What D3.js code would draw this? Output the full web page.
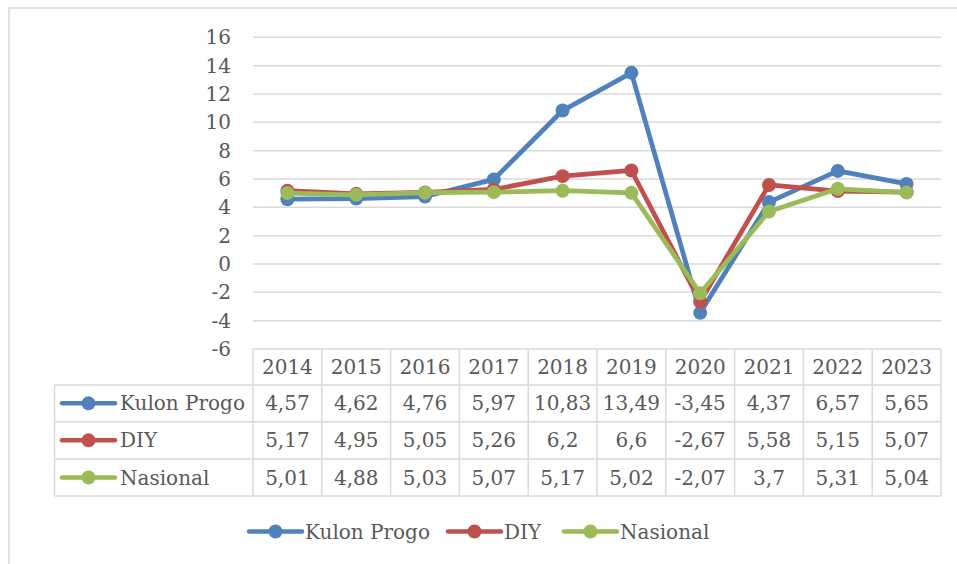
<!DOCTYPE html>
<html>
<head>
<meta charset="utf-8">
<script src="https://cdn.jsdelivr.net/npm/d3@7"></script>
<style>
  body { margin: 0; background: #fff; }
  text { font-family: "DejaVu Serif", serif; fill: #595959; }
</style>
</head>
<body>
<div id="chart"></div>
<script>
const years = [2014, 2015, 2016, 2017, 2018, 2019, 2020, 2021, 2022, 2023];
const kulonProgo = [4.57, 4.62, 4.76, 5.97, 10.83, 13.49, -3.45, 4.37, 6.57, 5.65];
const diy = [5.17, 4.95, 5.05, 5.26, 6.2, 6.6, -2.67, 5.58, 5.15, 5.07];
const nasional = [5.01, 4.88, 5.03, 5.07, 5.17, 5.02, -2.07, 3.7, 5.31, 5.04];
const seriesNames = ["Kulon Progo", "DIY", "Nasional"];
const seriesColors = ["#4f81bd", "#c0504d", "#9bbb59"];
const yTicks = [-6, -4, -2, 0, 2, 4, 6, 8, 10, 12, 14, 16];

const series = [kulonProgo, diy, nasional].map((vals, i) => ({
    name: seriesNames[i], color: seriesColors[i], values: vals
}));

const W = 957, H = 564;
const fontSize = 20;
const plotLeft = 253, plotRight = 941, plotTop = 37.3, plotBottom = 349;
const tableLeft = 54.5;
const rowLines = [349, 385, 421.7, 459, 496];

const svg = d3.select("#chart").append("svg")
    .attr("width", W)
    .attr("height", H);

// outer chart border
svg.append("rect")
    .attr("x", 9).attr("y", 8)
    .attr("width", W).attr("height", H)
    .attr("fill", "none")
    .attr("stroke", "#d9d9d9")
    .attr("stroke-width", 1.5);

let x = d3.scaleBand().domain(years).range([plotLeft, plotRight]);
let y = d3.scaleLinear().domain([-6, 16]).range([plotBottom, plotTop]);

// gridlines
svg.append("g").selectAll("line")
    .data(yTicks.filter(t => t > -6))
    .join("line")
    .attr("x1", plotLeft).attr("x2", plotRight)
    .attr("y1", d => y(d)).attr("y2", d => y(d))
    .attr("stroke", "#d9d9d9")
    .attr("stroke-width", 1.5);

// y tick labels
svg.append("g").selectAll("text")
    .data(yTicks)
    .join("text")
    .attr("x", 231)
    .attr("y", d => y(d))
    .attr("dy", "0.35em")
    .attr("text-anchor", "end")
    .attr("font-size", fontSize)
    .text(d => d);

// data table grid
let grid = svg.append("g")
    .attr("stroke", "#d9d9d9")
    .attr("stroke-width", 1.5);

rowLines.forEach((ry, i) => {
    grid.append("line")
        .attr("x1", i == 0 ? plotLeft : tableLeft).attr("x2", plotRight)
        .attr("y1", ry).attr("y2", ry);
});
grid.append("line")
    .attr("x1", tableLeft).attr("x2", tableLeft)
    .attr("y1", rowLines[1]).attr("y2", rowLines[4]);
years.forEach(yr => {
    grid.append("line")
        .attr("x1", x(yr)).attr("x2", x(yr))
        .attr("y1", rowLines[0]).attr("y2", rowLines[4]);
});
grid.append("line")
    .attr("x1", plotRight).attr("x2", plotRight)
    .attr("y1", rowLines[0]).attr("y2", rowLines[4]);

let rowMid = i => (rowLines[i] + rowLines[i + 1]) / 2;
let cx = d => x(d) + x.bandwidth() / 2;
let fmt = v => String(v).replace(".", ",");

// year header row
svg.append("g").selectAll("text")
    .data(years)
    .join("text")
    .attr("x", d => cx(d))
    .attr("y", rowMid(0))
    .attr("dy", "0.35em")
    .attr("text-anchor", "middle")
    .attr("font-size", fontSize)
    .text(d => d);

// legend key helper
let drawKey = (g, x0, yc, color) => {
    g.append("line")
        .attr("x1", x0).attr("x2", x0 + 53)
        .attr("y1", yc).attr("y2", yc)
        .attr("stroke", color)
        .attr("stroke-width", 4.5)
        .attr("stroke-linecap", "round");
    g.append("circle")
        .attr("cx", x0 + 26.5).attr("cy", yc)
        .attr("r", 7)
        .attr("fill", color);
};

series.forEach((s, i) => {
    let ym = rowMid(i + 1);
    let g = svg.append("g");
    drawKey(g, 62, ym, s.color);
    g.append("text")
        .attr("x", 120).attr("y", ym)
        .attr("dy", "0.35em")
        .attr("font-size", fontSize)
        .text(s.name);
    g.selectAll("text.val")
        .data(s.values)
        .join("text")
        .attr("class", "val")
        .attr("x", (d, j) => cx(years[j]))
        .attr("y", ym)
        .attr("dy", "0.35em")
        .attr("text-anchor", "middle")
        .attr("font-size", fontSize)
        .text(d => fmt(d));
});

// lines and markers
let line = d3.line()
    .x((d, j) => cx(years[j]))
    .y(d => y(d));

series.forEach(s => {
    let g = svg.append("g");
    g.append("path")
        .datum(s.values)
        .attr("d", line)
        .attr("fill", "none")
        .attr("stroke", s.color)
        .attr("stroke-width", 4.75)
        .attr("stroke-linejoin", "round");
    g.selectAll("circle")
        .data(s.values)
        .join("circle")
        .attr("cx", (d, j) => cx(years[j]))
        .attr("cy", d => y(d))
        .attr("r", 7)
        .attr("fill", s.color);
});

// bottom legend
const legendX = [249, 448, 564];
series.forEach((s, i) => {
    let g = svg.append("g");
    drawKey(g, legendX[i], 531.5, s.color);
    g.append("text")
        .attr("x", legendX[i] + 56).attr("y", 531.5)
        .attr("dy", "0.35em")
        .attr("font-size", fontSize)
        .text(s.name);
});
</script>
</body>
</html>
